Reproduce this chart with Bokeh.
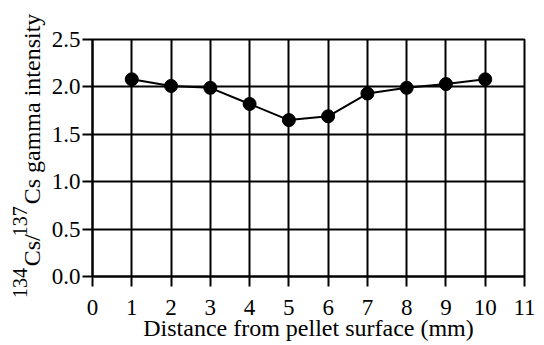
from bokeh.plotting import figure
from bokeh.models import FixedTicker, NumeralTickFormatter, Range1d, LinearAxis
from bokeh.embed import file_html
from bokeh.resources import INLINE

distance_mm = [1, 2, 3, 4, 5, 6, 7, 8, 9, 10]
ratio = [2.08, 2.01, 1.99, 1.82, 1.65, 1.69, 1.93, 1.99, 2.03, 2.08]
x_ticks = list(range(0, 12))
y_ticks = [0.0, 0.5, 1.0, 1.5, 2.0, 2.5]
x_title = "Distance from pellet surface (mm)"
y_title_main = ["Cs/", "Cs gamma intensity"]   # set on the baseline
y_title_sup = ["134", "137"]                    # raised isotope numbers

FONT = "Liberation Serif"
NB = "\u00a0"      # non-collapsing space
HAIR = "\u200a"

# main row: [sup gap] Cs/ [sup gap] Cs gamma intensity
main_label = NB * 6 + y_title_main[0] + NB * 5 + y_title_main[1]
# superscript row: 134 [gap as wide as "Cs/"] 137 [gap as wide as rest]
sup_label = NB + y_title_sup[0] + NB * 6 + HAIR + y_title_sup[1] + NB * 38 + HAIR * 2

p = figure(frame_width=432, frame_height=237, output_backend="svg", toolbar_location=None,
           x_range=Range1d(0, 11), y_range=Range1d(0, 2.5),
           min_border_left=92, min_border_right=20, min_border_top=39, min_border_bottom=30)

p.outline_line_color = "black"
p.outline_line_width = 2
p.background_fill_color = "white"
p.border_fill_color = "white"

p.axis.axis_line_width = 2
p.axis.axis_line_color = "black"
p.axis.major_tick_line_width = 2
p.axis.major_tick_line_color = "black"
p.axis.major_tick_out = 10
p.axis.major_tick_in = 0
p.axis.minor_tick_line_color = None
p.axis.major_label_text_font = FONT
p.axis.major_label_text_font_size = "23px"
p.axis.major_label_text_color = "black"
p.axis.axis_label_text_font = FONT
p.axis.axis_label_text_font_size = "24px"
p.axis.axis_label_text_font_style = "normal"
p.axis.axis_label_text_color = "black"

p.xaxis.ticker = FixedTicker(ticks=x_ticks)
p.yaxis.ticker = FixedTicker(ticks=y_ticks)
p.yaxis.formatter = NumeralTickFormatter(format="0.0")
p.xaxis.major_label_standoff = 13
p.yaxis.major_label_standoff = 2
p.xaxis.axis_label_standoff = -3
p.yaxis.axis_label_standoff = 4
p.xaxis.axis_label = x_title
p.yaxis.axis_label = main_label

# outer axis carrying only the raised isotope numbers
sup_axis = LinearAxis(ticker=FixedTicker(ticks=[]), axis_line_color=None,
                      major_tick_line_color=None, minor_tick_line_color=None,
                      major_label_text_font_size="1px",
                      axis_label=sup_label, axis_label_standoff=-15,
                      axis_label_text_font=FONT, axis_label_text_font_size="20px",
                      axis_label_text_font_style="normal", axis_label_text_color="black")
p.add_layout(sup_axis, "left")

for g in (p.xgrid[0], p.ygrid[0]):
    g.grid_line_color = "black"
    g.grid_line_width = 2
    g.grid_line_alpha = 1.0
p.xgrid.ticker = FixedTicker(ticks=x_ticks)
p.ygrid.ticker = FixedTicker(ticks=y_ticks)

p.line(distance_mm, ratio, line_color="black", line_width=2)
p.scatter(distance_mm, ratio, size=13, fill_color="black", line_color="black")

open("out.html", "w").write(file_html(p, INLINE))
